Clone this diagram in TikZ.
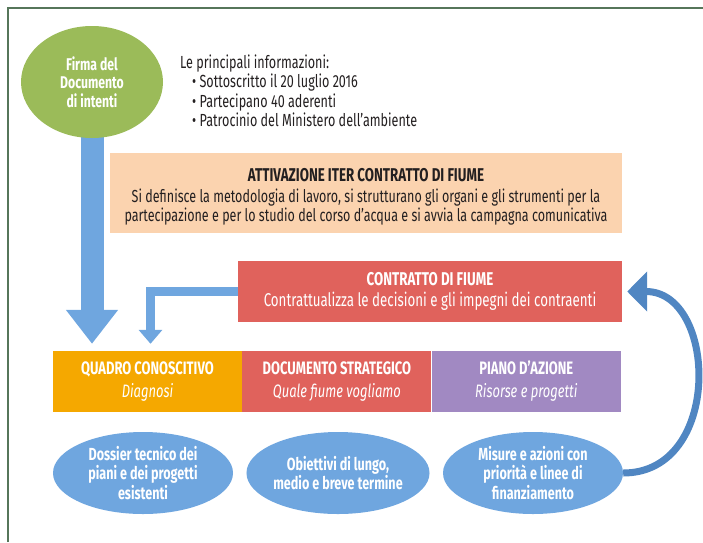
\documentclass[tikz,border=0pt]{standalone}
\usepackage{fontspec}
\setmainfont{Fira Sans}[FakeStretch=0.72]
\usetikzlibrary{arrows.meta, positioning, shapes.geometric, backgrounds}

\definecolor{verde}{HTML}{9BBB59}
\definecolor{azzurro}{HTML}{6FA6DF}
\definecolor{blu}{HTML}{5086C2}
\definecolor{pesca}{HTML}{FBD3AF}
\definecolor{rosso}{HTML}{E0625C}
\definecolor{arancio}{HTML}{F5A800}
\definecolor{viola}{HTML}{A189C2}
\definecolor{cornice}{HTML}{56765A}
\definecolor{testo}{HTML}{231F20}

\begin{document}
\begin{tikzpicture}[x=1pt, y=-1pt,
  fase/.style={rectangle, minimum width=189pt, minimum height=61pt,
               inner sep=0pt, align=center, text=white,
               font=\bfseries\fontsize{18}{23}\selectfont},
  ovale/.style={ellipse, fill=azzurro, minimum width=180pt, minimum height=82pt,
                inner sep=0pt, align=center, text=white,
                font=\bfseries\fontsize{17.5}{19.5}\selectfont},
  bigarrow/.style={-{Triangle[length=34pt, width=50pt]}, line width=23pt, draw=azzurro},
  smallarrow/.style={-{Triangle[length=14pt, width=23pt]}, line width=9pt,
                     draw=azzurro, line join=miter},
  curvearrow/.style={-{Triangle[length=20pt, width=39pt]}, line width=7pt, draw=blu}
]
  \useasboundingbox (0,0) rectangle (703,542);
  \draw[cornice, line width=1.6pt] (8,542) -- (8,8) -- (703,8);

  \node[ellipse, fill=verde, minimum width=142pt, minimum height=112pt, inner sep=0pt,
        align=center, text=white, font=\bfseries\fontsize{17}{18.5}\selectfont]
        (firma) at (92,82) {Firma del\\Documento\\di intenti};

  \node[align=left, inner sep=0pt, anchor=west, text=testo,
        font=\fontsize{17.5}{19.5}\selectfont] (info) at (180,91)
        {Le principali informazioni:\\
         \hspace*{12pt}\textbullet\ Sottoscritto il 20 luglio 2016\\
         \hspace*{12pt}\textbullet\ Partecipano 40 aderenti\\
         \hspace*{12pt}\textbullet\ Patrocinio del Ministero dell’ambiente};

  % riquadro e testo separati: il testo sta un poco sotto il centro
  \node[rectangle, fill=pesca, minimum width=512pt, minimum height=80pt, inner sep=0pt]
        (attiva) at (366,193) {};
  \node[align=center, inner sep=0pt, text=testo, font=\fontsize{17.4}{19.5}\selectfont]
        (attivatesto) at ([yshift=-4pt]attiva.center)
        {{\bfseries\fontsize{18.5}{19.5}\selectfont ATTIVAZIONE ITER CONTRATTO DI FIUME}\\[1.5pt]
         Si definisce la metodologia di lavoro, si strutturano gli organi e gli strumenti per la\\
         partecipazione e per lo studio del corso d’acqua e si avvia la campagna comunicativa};

  \node[rectangle, fill=rosso, minimum width=384pt, minimum height=61pt, inner sep=0pt,
        align=center, text=white, font=\fontsize{18.5}{21}\selectfont] (contratto) at (430,291.5)
        {{\bfseries CONTRATTO DI FIUME}\\
         Contrattualizza le decisioni e gli impegni dei contraenti};

  \node[fase, fill=arancio] (quadro) at (147.5,381.5)
        {QUADRO CONOSCITIVO\\{\mdseries\itshape Diagnosi}};
  \node[fase, fill=rosso, right=0pt of quadro] (strategico)
        {DOCUMENTO STRATEGICO\\{\mdseries\itshape Quale fiume vogliamo}};
  \node[fase, fill=viola, right=0pt of strategico] (piano)
        {PIANO D’AZIONE\\{\mdseries\itshape Risorse e progetti}};

  \node[ovale] (dossier) at (143,473) {Dossier tecnico dei\\piani e dei progetti\\esistenti};
  \node[ovale] (obiettivi) at (338,473) {Obiettivi di lungo,\\medio e breve termine};
  \node[ovale] (misure) at (533,473) {Misure e azioni con\\priorità e linee di\\finanziamento};

  \begin{scope}[on background layer]
    \draw[bigarrow, shorten >=7pt] (firma.center) -- (firma.center |- quadro.north);
  \end{scope}
  \draw[smallarrow] (contratto.west) -| ([xshift=3pt, yshift=7pt]quadro.north);
  \draw[curvearrow] (misure.east) .. controls +(100,0) and +(90,0)
        .. ([xshift=5pt]contratto.east);
\end{tikzpicture}
\end{document}
